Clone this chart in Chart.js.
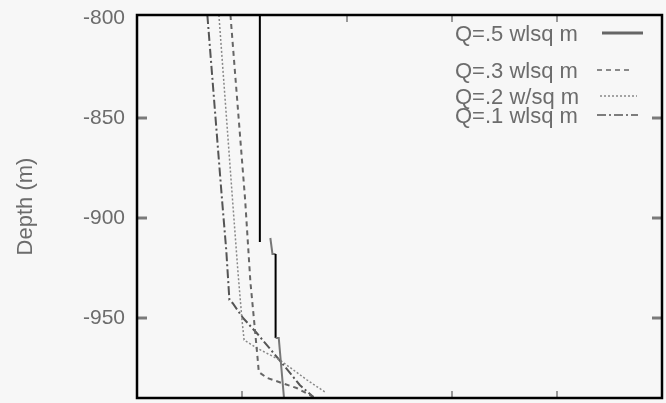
<!DOCTYPE html>
<html>
<head>
<meta charset="utf-8">
<script src="https://cdn.jsdelivr.net/npm/chart.js@4"></script>
<style>
  html, body { margin: 0; padding: 0; background: #f7f7f7; }
  #wrap { width: 666px; height: 403px; }
</style>
</head>
<body>
<div id="wrap"><canvas id="grafico"></canvas></div>
<script>
// valores (x sem escala, profundidade em m)
const legendLabels = ['Q=.5 wlsq m', 'Q=.3 wlsq m', 'Q=.2 w/sq m', 'Q=.1 wlsq m']
const yTicks = [-950, -900, -850, -800]

const q5x = [1.17, 1.17, null, 1.27, 1.29, 1.32, 1.32, 1.35, 1.40]
const q5y = [-798.5, -912, null, -910, -918, -918, -960, -960, -990]

const q3x = [0.89, 1.03, 1.08, 1.12, 1.15, 1.16, 1.24, 1.38, 1.52, 1.68]
const q3y = [-798.5, -891, -932, -954, -971, -977, -980, -982.5, -985, -989.5]

const q2x = [0.78, 0.91, 0.96, 1.0, 1.02, 1.14, 1.36, 1.62, 1.79]
const q2y = [-798.5, -891, -926, -951, -961, -965, -971, -981, -987]

const q1x = [0.67, 0.81, 0.85, 0.88, 0.91, 1.01, 1.14, 1.38, 1.55, 1.68]
const q1y = [-798.5, -891, -916, -941, -942.5, -950, -957.5, -972.5, -983.5, -989.5]

const pts = (xs, ys) => xs.map((x, i) => ({ x: x, y: ys[i] }))

const styles = [
  { color: '#666', dash: [], width: 2 },
  { color: '#666', dash: [5, 4], width: 2 },
  { color: '#888', dash: [2, 2], width: 1.5 },
  { color: '#555', dash: [9, 3, 2, 3], width: 2 }
]

const data = {
  datasets: [
    {
      label: legendLabels[0], data: pts(q5x, q5y),
      borderColor: styles[0].color, borderWidth: styles[0].width,
      segment: {
        borderColor: c => (c.p0.parsed.x === c.p1.parsed.x ? '#000' : '#777')
      }
    },
    { label: legendLabels[1], data: pts(q3x, q3y), borderColor: styles[1].color, borderWidth: styles[1].width, borderDash: styles[1].dash },
    { label: legendLabels[2], data: pts(q2x, q2y), borderColor: styles[2].color, borderWidth: styles[2].width, borderDash: styles[2].dash },
    { label: legendLabels[3], data: pts(q1x, q1y), borderColor: styles[3].color, borderWidth: styles[3].width, borderDash: styles[3].dash }
  ]
}

// moldura, marcas internas e legenda desenhadas à mão
const extras = {
  id: 'extras',
  afterDatasetsDraw(chart) {
    const c = chart.ctx
    const a = chart.chartArea
    const xs = chart.scales.x
    const ys = chart.scales.y
    c.save()
    c.setLineDash([])
    c.strokeStyle = '#7a7a7a'
    c.lineWidth = 3
    ;[-950, -900, -850].forEach(v => {
      const py = ys.getPixelForValue(v)
      c.beginPath(); c.moveTo(a.left, py); c.lineTo(a.left + 10, py); c.stroke()
      c.beginPath(); c.moveTo(a.right - 10, py); c.lineTo(a.right, py); c.stroke()
    })
    c.lineWidth = 1.5
    ;[2, 3, 4].forEach(v => {
      const px = xs.getPixelForValue(v)
      c.beginPath(); c.moveTo(px, a.top); c.lineTo(px, a.top + 7); c.stroke()
    })
    ;[1, 3, 4].forEach(v => {
      const px = xs.getPixelForValue(v)
      c.beginPath(); c.moveTo(px, a.bottom - 7); c.lineTo(px, a.bottom); c.stroke()
    })
    c.strokeStyle = '#000'
    c.lineWidth = 2.5
    c.strokeRect(a.left, a.top, a.right - a.left, a.bottom - a.top)

    // legenda
    const rows = [35, 72, 98, 117]
    const samples = [[602, 643], [597, 633], [600, 637], [597, 638]]
    c.font = '22px "Liberation Sans", Arial, sans-serif'
    c.fillStyle = '#6c6c6c'
    c.textBaseline = 'middle'
    legendLabels.forEach((t, i) => {
      c.fillText(t, 455, rows[i])
      c.strokeStyle = styles[i].color
      c.lineWidth = i === 0 ? 3 : 1.5
      c.setLineDash(styles[i].dash)
      c.beginPath(); c.moveTo(samples[i][0], rows[i] - 2); c.lineTo(samples[i][1], rows[i] - 2); c.stroke()
    })
    c.restore()
  }
}

const config = {
  type: 'scatter',
  data,
  options: {
    responsive: true,
    maintainAspectRatio: false,
    animation: false,
    showLine: true,
    spanGaps: false,
    pointRadius: 0,
    layout: { padding: { top: 15, right: 4, bottom: 5, left: 0 } },
    plugins: { legend: { display: false }, tooltip: { enabled: false } },
    scales: {
      x: { type: 'linear', min: 0, max: 5, display: false },
      y: {
        type: 'linear', min: -990, max: -798.5,
        afterBuildTicks: s => { s.ticks = yTicks.map(v => ({ value: v })) },
        afterFit: s => { s.width = 137; s.paddingTop = 0; s.paddingBottom = 0 },
        grid: { display: false, tickLength: 0 },
        border: { display: false },
        ticks: {
          color: '#6c6c6c',
          font: { size: 21, family: '"Liberation Sans", Arial, sans-serif' },
          padding: 12
        },
        title: {
          display: true, text: 'Depth (m)', color: '#6c6c6c',
          font: { size: 22, family: '"Liberation Sans", Arial, sans-serif' },
          padding: { top: 13, bottom: 0 }
        }
      }
    }
  },
  plugins: [extras]
}

const graph = new Chart(document.getElementById('grafico'), config)
</script>
</body>
</html>
